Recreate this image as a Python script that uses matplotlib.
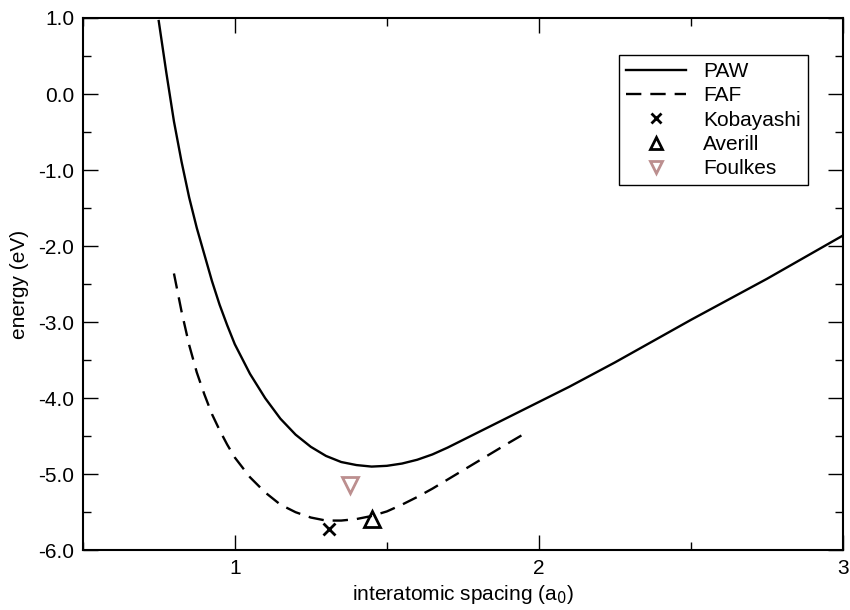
import numpy as np
import matplotlib
matplotlib.use('Agg')
import matplotlib.pyplot as plt
from matplotlib.ticker import MultipleLocator


plt.rcParams['font.family'] = ['Liberation Sans', 'DejaVu Sans']

# binding curves (energy vs. spacing)
paw_x = [0.75, 0.775, 0.80, 0.825, 0.85, 0.875, 0.90, 0.925, 0.95, 0.975, 1.00,
         1.05, 1.10, 1.15, 1.20, 1.25, 1.30, 1.35, 1.40, 1.45, 1.50, 1.55, 1.60,
         1.65, 1.70, 1.75, 1.80, 1.85, 1.90, 1.95, 2.00, 2.10, 2.25, 2.50, 2.75, 3.00]
paw_y = [0.96, 0.28, -0.36, -0.89, -1.36, -1.76, -2.11, -2.46, -2.77, -3.04, -3.29,
         -3.68, -4.00, -4.27, -4.48, -4.64, -4.76, -4.84, -4.88, -4.90, -4.89, -4.86, -4.81,
         -4.74, -4.65, -4.55, -4.45, -4.35, -4.25, -4.15, -4.05, -3.85, -3.53, -2.97, -2.43, -1.86]

faf_x = [0.80, 0.825, 0.85, 0.875, 0.90, 0.925, 0.95, 0.975, 1.00, 1.05, 1.10,
         1.15, 1.20, 1.25, 1.30, 1.35, 1.40, 1.45, 1.50, 1.55, 1.60, 1.65, 1.70,
         1.75, 1.80, 1.85, 1.90, 1.96]
faf_y = [-2.36, -2.86, -3.30, -3.66, -3.95, -4.21, -4.42, -4.61, -4.78, -5.04, -5.24,
         -5.40, -5.50, -5.57, -5.61, -5.61, -5.59, -5.55, -5.49, -5.40, -5.30, -5.19, -5.07,
         -4.95, -4.83, -4.71, -4.59, -4.45]

# reference values
kob_x, kob_y = [1.31], [-5.72]
ave_x, ave_y = [1.45], [-5.59]
fou_x, fou_y = [1.38], [-5.14]

fig = plt.figure(figsize=(8.5, 6.1), dpi=100)
ax = fig.add_axes([0.0973, 0.098, 0.8945, 0.8725])

ax.plot(paw_x, paw_y, '-', color='k', lw=1.7, label='PAW')
ax.plot(faf_x, faf_y, '--', color='k', lw=1.7, dashes=(6.5, 3.8), label='FAF')
ax.plot(kob_x, kob_y, 'x', color='k', ms=9, mew=2, ls='none', label='Kobayashi')
ax.plot(ave_x, ave_y, '^', mfc='none', mec='k', ms=11, mew=2, ls='none', label='Averill')
ax.plot(fou_x, fou_y, 'v', mfc='none', mec='rosybrown', ms=11, mew=2, ls='none', label='Foulkes')

ax.set_xlim(0.5, 3.0)
ax.set_ylim(-6.0, 1.0)
ax.xaxis.set_major_locator(MultipleLocator(1.0))
ax.xaxis.set_minor_locator(MultipleLocator(0.5))
ax.yaxis.set_major_locator(MultipleLocator(1.0))
ax.yaxis.set_minor_locator(MultipleLocator(0.5))
ax.yaxis.set_major_formatter(plt.FuncFormatter(lambda v, p: '%.1f' % v))
ax.xaxis.set_major_formatter(plt.FuncFormatter(lambda v, p: '%d' % v))

ax.tick_params(which='both', direction='in', top=True, right=True, labelsize=15)
ax.tick_params(which='major', length=11, width=1, pad=6)
ax.tick_params(which='minor', length=5.5, width=1)
for s in ax.spines.values():
    s.set_linewidth(1.5)

ax.set_xlabel('interatomic spacing (a$_0$)', fontsize=15, labelpad=4)
ax.set_ylabel('energy (eV)', fontsize=15, labelpad=7)

leg = ax.legend(loc='upper right', bbox_to_anchor=(0.954, 0.9305), fontsize=15,
                frameon=True, fancybox=False, handlelength=2.9, handletextpad=0.8,
                labelspacing=0.25, borderpad=0.35, borderaxespad=0, markerscale=0.8)
leg.get_frame().set_edgecolor('k')
leg.get_frame().set_linewidth(1.0)
leg.get_frame().set_alpha(1)

fig.savefig('out.png', dpi=100)
